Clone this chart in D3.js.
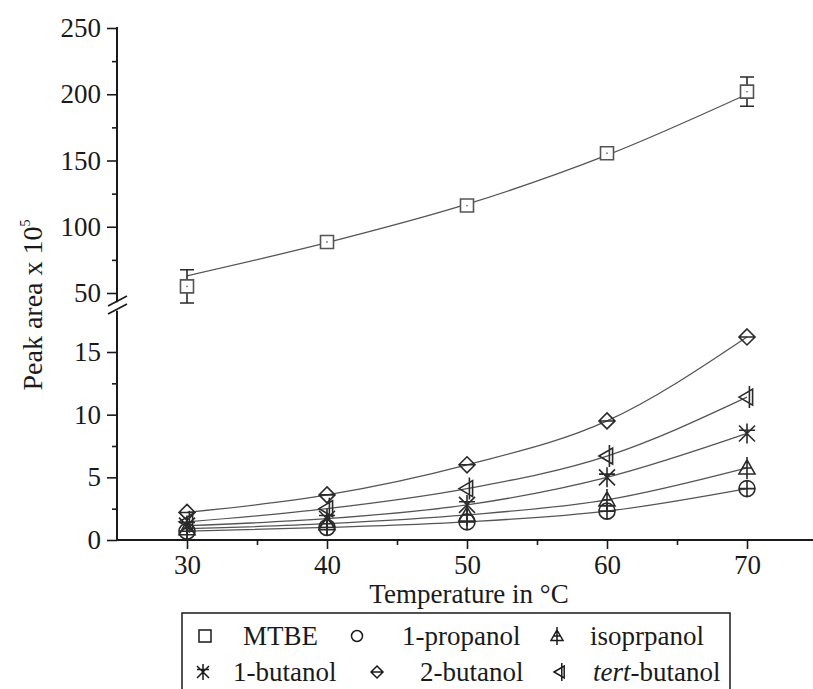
<!DOCTYPE html>
<html lang="en">
<head>
  <meta charset="UTF-8">
  <title>Peak area vs temperature</title>
  <script src="https://d3js.org/d3.v7.min.js"></script>
  <style>
    body { margin: 0; background: #fff; }
    text { font-family: "Liberation Serif", "Times New Roman", serif; fill: #1a1a1a; }
  </style>
</head>
<body>
<div id="chart"></div>
<script>
  // temperatures (°C) and peak areas (x 10^5)
  var temps = [30, 40, 50, 60, 70];
  var mtbe = [55, 88.5, 116, 155.5, 202];
  var mtbeErr = [12.5, 2, 2, 2, 11];
  var mtbeFit = [63, 88, 117, 154, 200];
  var propanol1 = [0.7, 1.0, 1.45, 2.3, 4.1];
  var isopropanol = [0.9, 1.3, 2.0, 3.2, 5.75];
  var butanol1 = [1.15, 1.7, 2.8, 5.0, 8.5];
  var butanol2 = [2.2, 3.6, 6.0, 9.5, 16.2];
  var tertButanol = [1.45, 2.5, 4.1, 6.7, 11.4];

  var upperTicks = [50, 100, 150, 200, 250];
  var upperMinor = [75, 125, 175, 225];
  var lowerTicks = [0, 5, 10, 15];
  var lowerMinor = [2.5, 7.5, 12.5];
  var xTicks = [30, 40, 50, 60, 70];
  var xMinor = [35, 45, 55, 65];

  var W = 813, H = 689;
  var svg = d3.select("#chart").append("svg")
    .attr("width", W)
    .attr("height", H);

  var x = d3.scaleLinear().domain([25, 75]).range([117, 817]);
  var yU = d3.scaleLinear().domain([50, 250]).range([293, 28]);
  var yL = d3.scaleLinear().domain([0, 15]).range([540, 352]);

  var axisColor = "#1a1a1a";
  var serif = "'Liberation Serif', 'Times New Roman', serif";

  // ---- axes ----
  function styleAxis(g) {
    g.attr("font-family", serif);
    g.select(".domain").remove();
    g.selectAll(".tick line").attr("stroke", axisColor).attr("stroke-width", 1.6);
    g.selectAll(".tick text")
      .style("font-family", serif)
      .style("font-size", "27px")
      .attr("fill", axisColor);
  }

  // upper y axis
  svg.append("g").attr("transform", "translate(117,0)")
    .call(d3.axisLeft(yU).tickValues(upperTicks).tickSize(10).tickPadding(6).tickFormat(d3.format("d")))
    .call(styleAxis);
  svg.append("g").attr("transform", "translate(117,0)")
    .call(d3.axisLeft(yU).tickValues(upperMinor).tickSize(5).tickFormat(""))
    .call(styleAxis);
  svg.append("line")
    .attr("x1", 117).attr("x2", 117)
    .attr("y1", yU(250) - 1).attr("y2", yU(43))
    .attr("stroke", axisColor).attr("stroke-width", 2);

  // lower y axis
  svg.append("g").attr("transform", "translate(117,0)")
    .call(d3.axisLeft(yL).tickValues(lowerTicks).tickSize(10).tickPadding(6).tickFormat(d3.format("d")))
    .call(styleAxis);
  svg.append("g").attr("transform", "translate(117,0)")
    .call(d3.axisLeft(yL).tickValues(lowerMinor).tickSize(5).tickFormat(""))
    .call(styleAxis);
  svg.append("line")
    .attr("x1", 117).attr("x2", 117)
    .attr("y1", yL(18.3)).attr("y2", yL(0))
    .attr("stroke", axisColor).attr("stroke-width", 2);

  // break marks
  [301, 309].forEach(function(cy) {
    svg.append("line")
      .attr("x1", 108).attr("y1", cy + 5)
      .attr("x2", 127).attr("y2", cy - 5)
      .attr("stroke", axisColor).attr("stroke-width", 1.6);
  });

  // x axis
  svg.append("g").attr("transform", "translate(0," + yL(0) + ")")
    .call(d3.axisBottom(x).tickValues(xTicks).tickSize(9).tickPadding(6).tickFormat(d3.format("d")))
    .call(styleAxis);
  svg.append("g").attr("transform", "translate(0," + yL(0) + ")")
    .call(d3.axisBottom(x).tickValues(xMinor).tickSize(5).tickFormat(""))
    .call(styleAxis);
  svg.append("line")
    .attr("x1", 116).attr("x2", W)
    .attr("y1", yL(0)).attr("y2", yL(0))
    .attr("stroke", axisColor).attr("stroke-width", 2);

  // axis titles
  svg.append("text")
    .attr("x", 469).attr("y", 603)
    .attr("text-anchor", "middle")
    .style("font-size", "27px")
    .text("Temperature in °C");

  var ylab = svg.append("text")
    .attr("transform", "translate(42,305) rotate(-90)")
    .attr("text-anchor", "middle")
    .style("font-size", "28px");
  ylab.append("tspan").text("Peak area x 10");
  ylab.append("tspan").attr("dy", -12).style("font-size", "14px").text("5");

  // ---- marker shapes ----
  function markerPath(type, s) {
    var p = d3.path();
    if (type === "square") {
      p.rect(-s, -s, 2 * s, 2 * s);
    } else if (type === "circle") {
      p.arc(0, 0, s, 0, 2 * Math.PI);
      p.moveTo(-s, 0); p.lineTo(s, 0);
      p.moveTo(0, -s); p.lineTo(0, s);
    } else if (type === "triangle") {
      p.moveTo(0, -s); p.lineTo(s, s * 0.75); p.lineTo(-s, s * 0.75); p.closePath();
      p.moveTo(0, -s - 3); p.lineTo(0, s + 3);
      p.moveTo(-s * 0.6, 0); p.lineTo(s * 0.6, 0);
    } else if (type === "star") {
      p.moveTo(-s, -s); p.lineTo(s, s);
      p.moveTo(s, -s); p.lineTo(-s, s);
      p.moveTo(-s, -s * 0.4); p.lineTo(s, -s * 0.4);
      p.moveTo(0, -s - 2); p.lineTo(0, s + 2);
    } else if (type === "diamond") {
      p.moveTo(0, -s); p.lineTo(s, 0); p.lineTo(0, s); p.lineTo(-s, 0); p.closePath();
      p.moveTo(-s, 0); p.lineTo(s, 0);
    } else if (type === "left") {
      p.moveTo(-s, 0); p.lineTo(s * 0.7, -s); p.lineTo(s * 0.7, s); p.closePath();
      p.moveTo(s * 0.3, -s - 3); p.lineTo(s * 0.3, s + 3);
    }
    return p.toString();
  }

  var lineColor = "#555";
  var markColor = "#2a2a2a";
  var curve = d3.line().curve(d3.curveMonotoneX);

  // ---- MTBE (upper panel) ----
  svg.append("path")
    .attr("d", curve(temps.map(function(t, i) { return [x(t), yU(mtbeFit[i])]; })))
    .attr("fill", "none").attr("stroke", lineColor).attr("stroke-width", 1.3);

  var mt = svg.append("g");
  temps.forEach(function(t, i) {
    var cx = x(t), cy = yU(mtbe[i]);
    var top = yU(mtbe[i] + mtbeErr[i]), bot = yU(mtbe[i] - mtbeErr[i]);
    mt.append("path")
      .attr("d", "M" + cx + "," + top + "V" + bot + "M" + (cx - 7) + "," + top + "H" + (cx + 7) +
        "M" + (cx - 7) + "," + bot + "H" + (cx + 7))
      .attr("stroke", markColor).attr("stroke-width", 1.6).attr("fill", "none");
    mt.append("path")
      .attr("transform", "translate(" + cx + "," + cy + ")")
      .attr("d", markerPath("square", 6.5))
      .attr("fill", "#fff").attr("stroke", "#555").attr("stroke-width", 1.6);
    mt.append("circle").attr("cx", cx).attr("cy", cy).attr("r", 0.9).attr("fill", "#777");
  });

  // ---- alcohols (lower panel) ----
  var alcohols = [
    { name: "1-propanol", values: propanol1, shape: "circle" },
    { name: "isoprpanol", values: isopropanol, shape: "triangle" },
    { name: "1-butanol", values: butanol1, shape: "star" },
    { name: "tert-butanol", values: tertButanol, shape: "left" },
    { name: "2-butanol", values: butanol2, shape: "diamond" }
  ];

  alcohols.forEach(function(s) {
    svg.append("path")
      .attr("d", curve(temps.map(function(t, i) { return [x(t), yL(s.values[i])]; })))
      .attr("fill", "none").attr("stroke", lineColor).attr("stroke-width", 1.3);
  });

  alcohols.forEach(function(s) {
    svg.append("g").selectAll("path")
      .data(s.values)
      .enter()
      .append("path")
      .attr("transform", function(d, i) { return "translate(" + x(temps[i]) + "," + yL(d) + ")"; })
      .attr("d", markerPath(s.shape, 8))
      .attr("fill", "none")
      .attr("stroke", markColor)
      .attr("stroke-width", 1.6);
  });

  // ---- legend ----
  svg.append("rect")
    .attr("x", 182).attr("y", 613)
    .attr("width", 548).attr("height", 90)
    .attr("fill", "#fff").attr("stroke", axisColor).attr("stroke-width", 1.5);

  var legendItems = [
    { label: "MTBE", shape: "square", sx: 205, tx: 243, row: 0 },
    { label: "1-propanol", shape: "circleplain", sx: 357, tx: 402, row: 0 },
    { label: "isoprpanol", shape: "triangle", sx: 557, tx: 590, row: 0 },
    { label: "1-butanol", shape: "star", sx: 203, tx: 233, row: 1 },
    { label: "2-butanol", shape: "diamond", sx: 377, tx: 420, row: 1 },
    { label: "tert-butanol", shape: "left", sx: 560, tx: 593, row: 1 }
  ];
  var rowBase = [645, 681];

  legendItems.forEach(function(d) {
    var cy = rowBase[d.row] - 9;
    if (d.shape === "circleplain") {
      svg.append("circle").attr("cx", d.sx).attr("cy", cy).attr("r", 5.5)
        .attr("fill", "none").attr("stroke", axisColor).attr("stroke-width", 1.5);
    } else {
      svg.append("path")
        .attr("transform", "translate(" + d.sx + "," + cy + ")")
        .attr("d", markerPath(d.shape, 6))
        .attr("fill", "none").attr("stroke", axisColor).attr("stroke-width", 1.5);
    }
    var t = svg.append("text")
      .attr("x", d.tx).attr("y", rowBase[d.row])
      .style("font-size", "27px");
    if (d.label === "tert-butanol") {
      t.append("tspan").style("font-style", "italic").text("tert");
      t.append("tspan").text("-butanol");
    } else {
      t.text(d.label);
    }
  });
</script>
</body>
</html>
